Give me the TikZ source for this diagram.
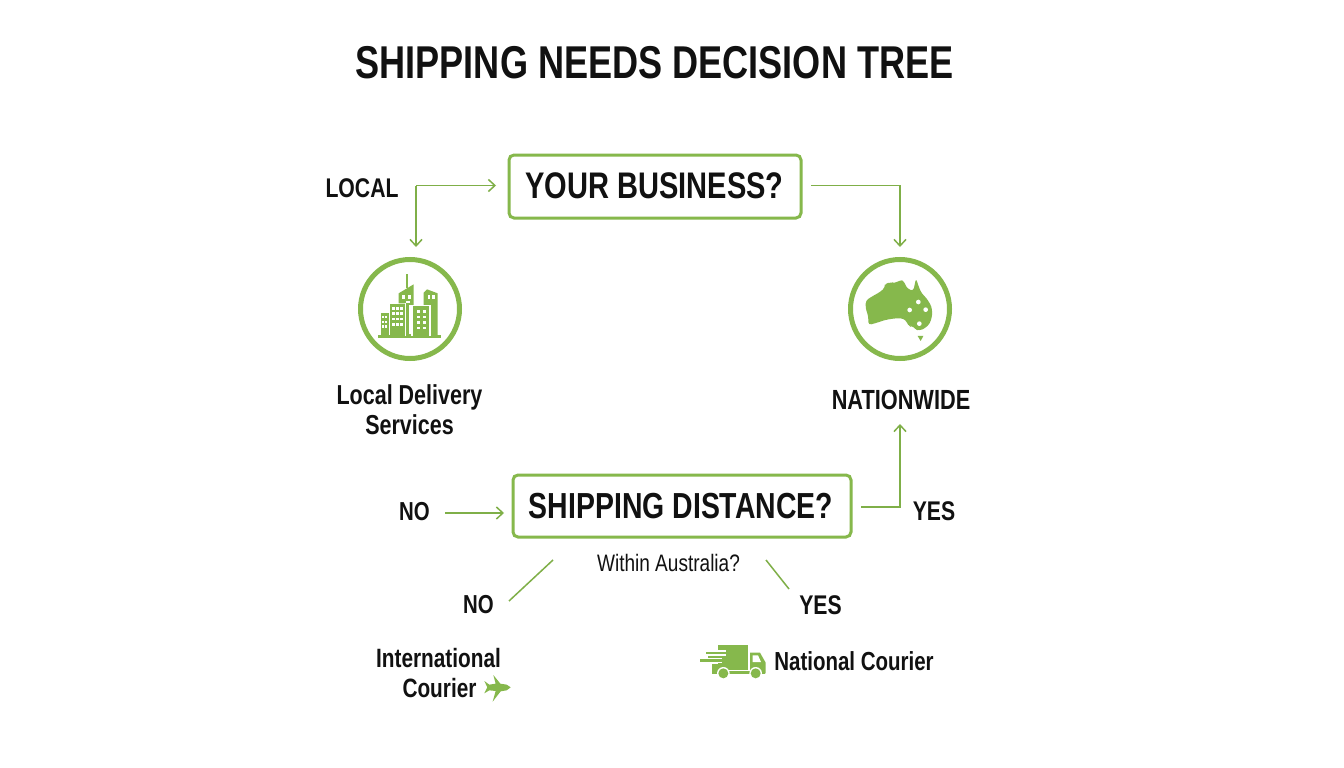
\documentclass[tikz,border=0pt]{standalone}
\usepackage{fontspec}
\setmainfont{Liberation Sans}
\newfontfamily\cond[FakeStretch=0.785]{Liberation Sans Bold}
\newfontfamily\condreg[FakeStretch=0.80]{Liberation Sans}
\usetikzlibrary{arrows.meta}
\definecolor{leaf}{HTML}{86B84C}
\definecolor{ink}{HTML}{111111}
\tikzset{
  x=1pt,y=-1pt,
  txt/.style={inner sep=0pt,text=ink,align=center,font=\cond\fontsize{#1}{#1}\selectfont},
  decbox/.style={draw=leaf,line width=3pt,rounded corners=5pt,fill=white},
  ring/.style={draw=leaf,line width=5pt,circle,inner sep=0pt,minimum size=99pt,fill=white},
  link/.style={draw=leaf!95!black,line width=1.5pt,-{Straight Barb[length=6.5pt,width=12pt,line width=1.5pt]}},
  plainlink/.style={draw=leaf!95!black,line width=1.5pt},
  icon/.style={fill=leaf,draw=none},
  gap/.style={fill=white,draw=none}
}
\begin{document}
\begin{tikzpicture}
\useasboundingbox (0,0) rectangle (1344,768);
\fill[white] (0,0) rectangle (1344,768);
\node[txt=46] (title) at (654.5,62.5) {SHIPPING NEEDS DECISION TREE};
\node[decbox,minimum width=292pt,minimum height=63pt] (biz) at (655,186.5) {};
\node[txt=37] (bizt) at (654.5,186) {YOUR BUSINESS?};
\node[decbox,minimum width=338pt,minimum height=62pt] (dist) at (682,506) {};
\node[txt=36.2] (distt) at (681,506) {SHIPPING DISTANCE?};
\node[ring] (city) at (410,309) {};
\node[ring] (aus) at (900,309) {};
\node[txt=27] (local) at (362,188) {LOCAL};
\node[txt=27.4] (lds) at (409.5,409.5) {Local Delivery\\[2.6pt]Services};
\node[txt=27.7] (nat) at (901,400) {NATIONWIDE};
\node[txt=26] (no1) at (414.5,512) {NO};
\node[txt=27] (yes1) at (934,511) {YES};
\node[inner sep=0pt,text=ink,font=\condreg\fontsize{23.8}{23.8}\selectfont] (within) at (668.5,563) {Within Australia?};
\node[txt=26] (no2) at (478.5,605) {NO};
\node[txt=27] (yes2) at (820.5,605) {YES};
\node[txt=26.5] (intl) at (438.5,658) {International};
\node[txt=26.5] (cour) at (439.5,688) {Courier};
\node[txt=26.1] (natc) at (854,661) {National Courier};
% connectors
\coordinate (c1) at (416,185.5);
\coordinate (c2) at (900,185.5);
\coordinate (c3) at (900,507);
\coordinate (s1) at (811,185.5);
\coordinate (s2) at (861,507);
\coordinate (s3) at (445,513);
\coordinate (l1a) at (553,560);
\coordinate (l1b) at (509,601);
\coordinate (l2a) at (766,560);
\coordinate (l2b) at (789,589);
\draw[link] (c1) -- (496,185.5);
\draw[link] (c1) -- (416,247);
\draw[link] (s1) -- (c2) -- (900,247);
\draw[link] (s2) -- (c3) -- (900,424);
\draw[link] (s3) -- (504,513);
\draw[plainlink] (l1a) -- (l1b);
\draw[plainlink] (l2a) -- (l2b);
% city icon
\begin{scope}[shift={(372,270)},x=0.3333pt,y=-0.3333pt]
\fill[icon] (18,195) rectangle (207,204);
\fill[icon] (27,130) rectangle (50,197);
\fill[icon] (54,102) rectangle (98,197);
\fill[icon] (80,70) -- (125,43) -- (125,197) -- (102,197) -- (102,100) -- (80,100) -- cycle;
\fill[icon] (101,12) rectangle (107,55);
\fill[gap] (98,100) rectangle (102,197);
\fill[icon] (155,68) -- (165,58) -- (197,70) -- (197,197) -- (155,197) -- cycle;
\fill[gap] (118,104) rectangle (176,197);
\fill[icon] (124,109) rectangle (172,197);
\foreach \xx in {64,76,88}{\foreach \yy in {115,131,147,163}{\fill[gap] (\xx-3.5,\yy-4) rectangle (\xx+3.5,\yy+4);}}
\foreach \xx in {34,43}{\foreach \yy in {142,156,170}{\fill[gap] (\xx-3,\yy-3.5) rectangle (\xx+3,\yy+3.5);}}
\foreach \xx in {139,157}{\foreach \yy in {125,142,158,174}{\fill[gap] (\xx-5,\yy-3.5) rectangle (\xx+5,\yy+3.5);}}
\foreach \xx in {95,113}{\fill[gap] (\xx-4.5,74) rectangle (\xx+4.5,86);}
\fill[gap] (102,92) rectangle (114,100);
\foreach \xx in {171,184}{\fill[gap] (\xx-4,76) rectangle (\xx+4,88);}
\fill[gap] (112,105) rectangle (116,192);
\end{scope}
% Australia icon
\begin{scope}[shift={(860,270)},x=0.3333pt,y=-0.3333pt]
\fill[icon,rounded corners=3pt] (17,92) -- (35,80) -- (62,65) -- (75,52) -- (75,40) -- (95,37) -- (105,40) -- (120,30) -- (133,33) -- (137,50) -- (150,60) -- (160,63) -- (168,25) -- (178,55) -- (185,70) -- (200,85) -- (215,110) -- (217,135) -- (210,160) -- (195,175) -- (178,182) -- (165,178) -- (155,165) -- (148,172) -- (140,155) -- (130,145) -- (105,145) -- (75,150) -- (45,160) -- (25,165) -- (25,140) -- (17,115) -- cycle;
\fill[icon] (173,198) -- (190,198) -- (182,213) -- cycle;
\foreach \xx/\yy in {175/96,149/120,197/119,178/161}{\fill[gap] (\xx,\yy) circle[radius=7];}
\end{scope}
% plane icon
\begin{scope}[shift={(360,630)},x=0.3333pt,y=-0.3333pt]
\fill[icon] (452,172) -- (440,164) -- (421,161) -- (400,135) -- (407,161) -- (388,164) -- (373,153) -- (382,172) -- (373,190) -- (388,181) -- (407,183) -- (398,215) -- (422,184) -- (440,181) -- cycle;
\end{scope}
% truck icon
\begin{scope}[shift={(695,640)},x=0.3333pt,y=-0.3333pt]
\fill[icon] (68,15) rectangle (160,90);
\fill[gap] (60,29) rectangle (92,35);
\fill[gap] (60,43) rectangle (92,48);
\fill[gap] (60,54) rectangle (82,58);
\fill[gap] (60,65) rectangle (82,70);
\fill[icon] (33,35) rectangle (90,43);
\fill[icon] (38,48) rectangle (76,54);
\fill[icon] (15,58) rectangle (80,65);
\fill[icon] (52,92) rectangle (210,103);
\fill[icon] (52,72) rectangle (70,92);
\fill[icon] (165,38) -- (195,38) -- (212,68) -- (212,100) -- (165,100) -- cycle;
\fill[gap] (173,46) -- (189,46) -- (198,66) -- (173,66) -- cycle;
\foreach \xx in {85,182}{\fill[gap] (\xx,100) circle[radius=19];\fill[icon] (\xx,100) circle[radius=15];}
\end{scope}
\end{tikzpicture}
\end{document}
